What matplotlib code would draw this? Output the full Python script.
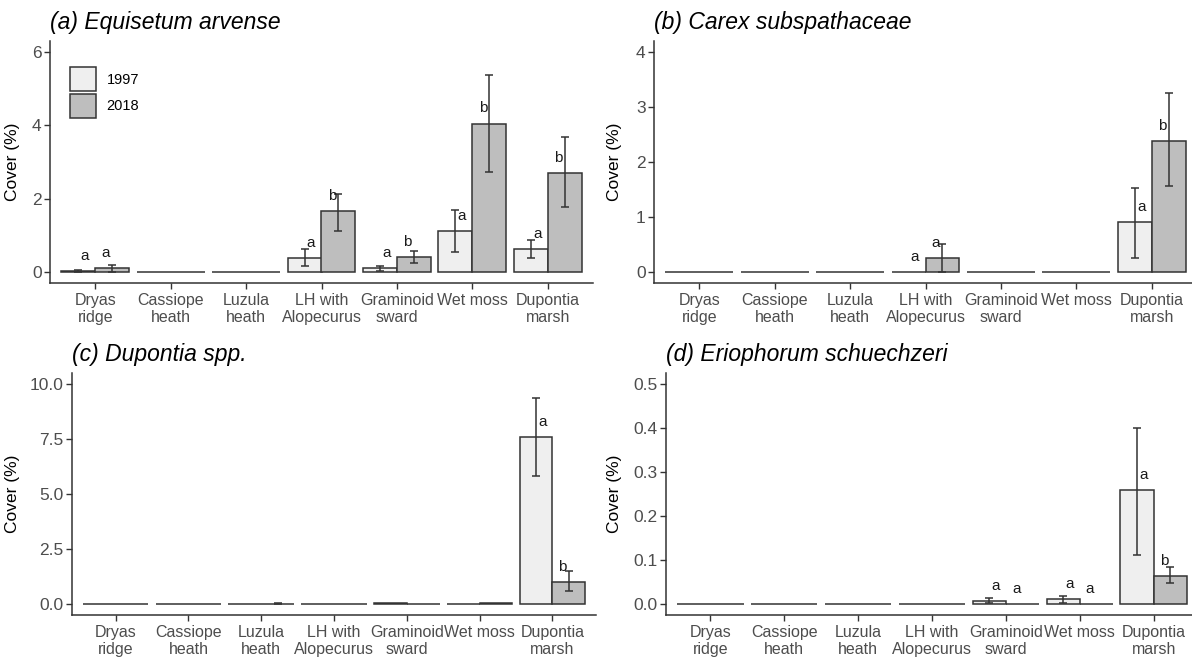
import matplotlib
matplotlib.use("Agg")
import matplotlib.pyplot as plt
from matplotlib.patches import Patch
import numpy as np

plt.rcParams['font.family'] = ['Liberation Sans', 'DejaVu Sans']

# ---------------- data ----------------
categories = ["Dryas\nridge", "Cassiope\nheath", "Luzula\nheath", "LH with\nAlopecurus",
              "Graminoid\nsward", "Wet moss", "Dupontia\nmarsh"]
years = ["1997", "2018"]

# (a) Equisetum arvense
a_1997 = [0.03, 0, 0, 0.39, 0.10, 1.13, 0.64]
a_1997_lo = [0.01, 0, 0, 0.16, 0.04, 0.55, 0.39]
a_1997_hi = [0.05, 0, 0, 0.62, 0.16, 1.70, 0.87]
a_2018 = [0.10, 0, 0, 1.65, 0.42, 4.05, 2.70]
a_2018_lo = [0.00, 0, 0, 1.13, 0.25, 2.73, 1.77]
a_2018_hi = [0.19, 0, 0, 2.12, 0.58, 5.36, 3.67]
a_let_1997 = ["a", "", "", "a", "a", "a", "a"]
a_let_2018 = ["a", "", "", "b", "b", "b", "b"]

# (b) Carex subspathaceae
b_1997 = [0, 0, 0, 0, 0, 0, 0.90]
b_1997_lo = [0, 0, 0, 0, 0, 0, 0.26]
b_1997_hi = [0, 0, 0, 0, 0, 0, 1.52]
b_2018 = [0, 0, 0, 0.26, 0, 0, 2.39]
b_2018_lo = [0, 0, 0, 0.00, 0, 0, 1.56]
b_2018_hi = [0, 0, 0, 0.51, 0, 0, 3.25]
b_let_1997 = ["", "", "", "a", "", "", "a"]
b_let_2018 = ["", "", "", "a", "", "", "b"]

# (c) Dupontia spp.
c_1997 = [0, 0, 0, 0, 0.05, 0, 7.59]
c_1997_lo = [0, 0, 0, 0, 0.05, 0, 5.83]
c_1997_hi = [0, 0, 0, 0, 0.05, 0, 9.36]
c_2018 = [0, 0, 0.01, 0, 0, 0.05, 1.00]
c_2018_lo = [0, 0, 0.00, 0, 0, 0.05, 0.59]
c_2018_hi = [0, 0, 0.05, 0, 0, 0.05, 1.50]
c_let_1997 = ["", "", "", "", "", "", "a"]
c_let_2018 = ["", "", "", "", "", "", "b"]

# (d) Eriophorum schuechzeri
d_1997 = [0, 0, 0, 0, 0.0076, 0.011, 0.258]
d_1997_lo = [0, 0, 0, 0, 0.0015, 0.002, 0.112]
d_1997_hi = [0, 0, 0, 0, 0.014, 0.019, 0.400]
d_2018 = [0, 0, 0, 0, 0, 0, 0.064]
d_2018_lo = [0, 0, 0, 0, 0, 0, 0.048]
d_2018_hi = [0, 0, 0, 0, 0, 0, 0.083]
d_let_1997 = ["", "", "", "", "a", "a", "a"]
d_let_2018 = ["", "", "", "", "a", "a", "b"]

titles = ["(a) Equisetum arvense", "(b) Carex subspathaceae",
          "(c) Dupontia spp.", "(d) Eriophorum schuechzeri"]
yticks_list = [[0, 2, 4, 6], [0, 1, 2, 3, 4],
               [0.0, 2.5, 5.0, 7.5, 10.0], [0.0, 0.1, 0.2, 0.3, 0.4, 0.5]]
ytick_fmt = ["{:.0f}", "{:.0f}", "{:.1f}", "{:.1f}"]

panels = [
    (a_1997, a_1997_lo, a_1997_hi, a_2018, a_2018_lo, a_2018_hi, a_let_1997, a_let_2018),
    (b_1997, b_1997_lo, b_1997_hi, b_2018, b_2018_lo, b_2018_hi, b_let_1997, b_let_2018),
    (c_1997, c_1997_lo, c_1997_hi, c_2018, c_2018_lo, c_2018_hi, c_let_1997, c_let_2018),
    (d_1997, d_1997_lo, d_1997_hi, d_2018, d_2018_lo, d_2018_hi, d_let_1997, d_let_2018),
]

# ---------------- style ----------------
W, H = 1192, 657
fig = plt.figure(figsize=(W / 100, H / 100), dpi=100)

# axes rectangles in pixels: left, top, right, bottom
rects_px = [(50, 41, 593, 283), (654, 41, 1197, 283),
            (72, 373, 596, 615), (666, 373, 1198, 615)]
ylabel_x_px = [20, 622, 20, 622]

col_1997 = "#EFEFEF"
col_2018 = "#BEBEBE"
edge = "#333333"
tick_col = "#4D4D4D"
bw = 0.45
x = np.arange(1, len(categories) + 1)

for i, (ax_rect, pdata) in enumerate(zip(rects_px, panels)):
    l, t, r, b = ax_rect
    ax = fig.add_axes([l / W, 1 - b / H, (r - l) / W, (b - t) / H])
    m1, lo1, hi1, m2, lo2, hi2, L1, L2 = pdata
    ax.bar(x - bw / 2, m1, width=bw, color=col_1997, edgecolor=edge, linewidth=1.1,
           label=years[0], zorder=2)
    ax.bar(x + bw / 2, m2, width=bw, color=col_2018, edgecolor=edge, linewidth=1.1,
           label=years[1], zorder=2)
    for xs, m, lo, hi in [(x - bw / 2, m1, lo1, hi1), (x + bw / 2, m2, lo2, hi2)]:
        m = np.array(m, float); lo = np.array(lo, float); hi = np.array(hi, float)
        mask = hi > lo
        if mask.any():
            ax.errorbar(xs[mask], m[mask], yerr=[m[mask] - lo[mask], hi[mask] - m[mask]],
                        fmt='none', ecolor=edge, elinewidth=1.1, capsize=3, capthick=1.1,
                        zorder=3)
    for xs, m, labs in [(x - 0.14, m1, L1), (x + 0.14, m2, L2)]:
        for xx, mm, lab in zip(xs, m, labs):
            if lab:
                ax.annotate(lab, (xx, mm), xytext=(0, 10.8), textcoords='offset points',
                            ha='center', va='center', fontsize=11, color='#1a1a1a',
                            zorder=4)
    yt = yticks_list[i]
    ax.set_ylim(yt[0] - 0.05 * (yt[-1] - yt[0]), yt[-1] + 0.05 * (yt[-1] - yt[0]))
    ax.set_xlim(0.4, 7.6)
    ax.set_yticks(yt)
    ax.set_yticklabels([ytick_fmt[i].format(v) for v in yt])
    ax.set_xticks(x)
    ax.set_xticklabels(categories, linespacing=1.15)
    ax.tick_params(axis='y', labelsize=12.5, colors=tick_col, length=4, width=1.0, pad=2)
    ax.tick_params(axis='x', labelsize=11.5, colors=tick_col, length=4, width=1.0, pad=3)
    ax.tick_params(axis='both', color=edge)
    for s in ['top', 'right']:
        ax.spines[s].set_visible(False)
    for s in ['left', 'bottom']:
        ax.spines[s].set_color(edge)
        ax.spines[s].set_linewidth(1.1)
    ax.set_ylabel("Cover (%)", fontsize=12.5, color='black')
    ax.yaxis.set_label_coords((ylabel_x_px[i] - l) / (r - l), 0.5)
    ax.set_title(titles[i], loc='left', fontsize=16.5, style='italic', pad=9, color='black')
    ax.patch.set_alpha(0)
    if i == 0:
        handles = [Patch(facecolor=col_1997, edgecolor=edge, linewidth=1.1),
                   Patch(facecolor=col_2018, edgecolor=edge, linewidth=1.1)]
        ax.legend(handles, years, loc='upper left',
                  bbox_to_anchor=((70 - l) / (r - l), 1 - (67 - t) / (b - t)),
                  frameon=False, fontsize=10.5, handlelength=1.8, handleheight=2.15,
                  labelspacing=0.2, handletextpad=0.7, borderpad=0, borderaxespad=0)

fig.savefig("out.png", dpi=100)
